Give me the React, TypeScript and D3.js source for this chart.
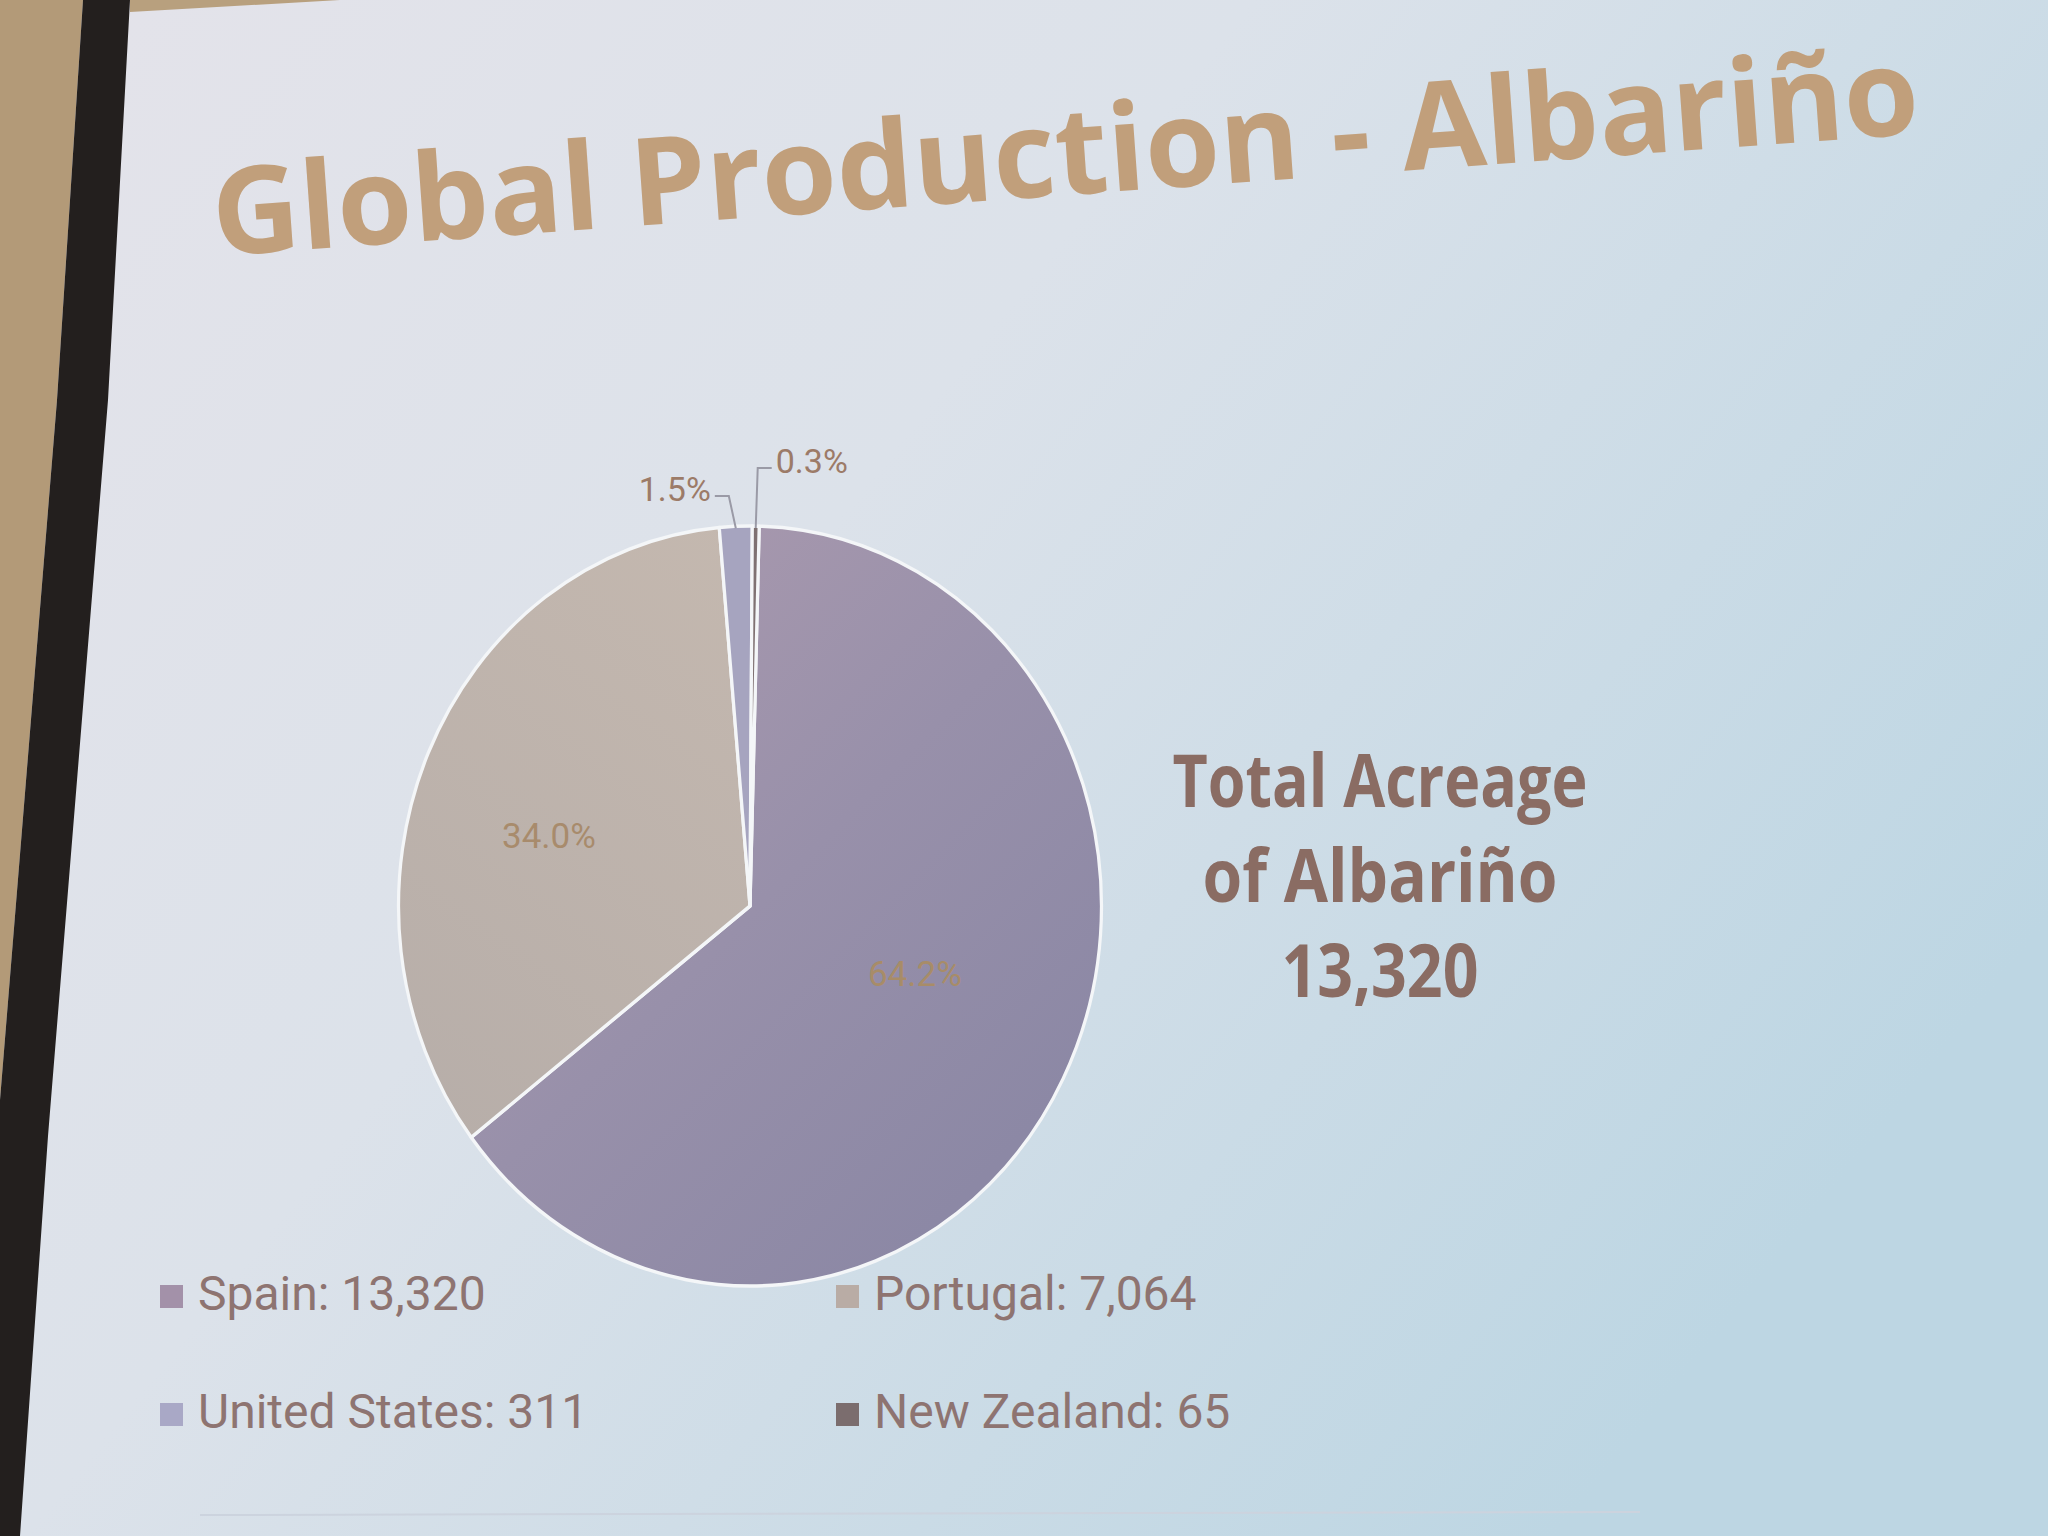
import React from "react";
import * as d3 from "d3";

const countries = ["Spain", "Portugal", "United States", "New Zealand"];
const acreage = [13320, 7064, 311, 65];
const sliceColors = ["url(#spainGrad)", "url(#portGrad)", "#a6a4bf", "#7f7172"];
const legendColors = ["#a391a9", "#b9aca5", "#a9a8c6", "#7b6d6e"];
const titleText = "Global Production - Albariño";
const sideLines = ["Total Acreage", "of Albariño", "13,320"];

const W = 2048;
const H = 1536;

export default function App() {
  const cx = 750;
  const cy = 906;
  const R = 380;
  const sx = 0.925;
  const offset = (1.5 * Math.PI) / 180;
  const total = d3.sum(acreage);
  const fmtPct = d3.format(".1%");
  const fmtNum = d3.format(",");

  const pie = d3
    .pie<number>()
    .sort(null)
    .value((d) => d)
    .startAngle(offset)
    .endAngle(offset + 2 * Math.PI);
  const arcs = pie(acreage);
  const arc = d3.arc<d3.PieArcDatum<number>>().innerRadius(0).outerRadius(R);

  const pt = (a: number, r: number) => [cx + sx * r * Math.sin(a), cy - r * Math.cos(a)];
  const labelFactor = [0.52, 0.6];
  const labelNudge = [
    [2, -22],
    [-8, 22],
  ];
  const labelColors = ["#a88c68", "#a88b6c"];

  const legendCols = [160, 836];
  const legendRows = [1310, 1428];

  return (
    <svg
      width={W}
      height={H}
      style={{ position: "absolute", left: 0, top: 0 }}
      xmlns="http://www.w3.org/2000/svg"
    >
      <defs>
        <linearGradient id="bg" x1="0" y1="0" x2="1" y2="0.6">
          <stop offset="0" stopColor="#e4e3ea" />
          <stop offset="0.45" stopColor="#dce2ea" />
          <stop offset="1" stopColor="#bdd6e3" />
        </linearGradient>
        <linearGradient id="spainGrad" gradientUnits="userSpaceOnUse" x1={-120} y1={-R} x2={R} y2={150}>
          <stop offset="0" stopColor="#a999ae" />
          <stop offset="0.5" stopColor="#9890aa" />
          <stop offset="1" stopColor="#8c88a5" />
        </linearGradient>
        <linearGradient id="portGrad" gradientUnits="userSpaceOnUse" x1={0} y1={-R} x2={-R} y2={200}>
          <stop offset="0" stopColor="#c4b8af" />
          <stop offset="1" stopColor="#b7aea9" />
        </linearGradient>
      </defs>

      <rect x={0} y={0} width={W} height={H} fill="url(#bg)" />
      {/* room surroundings in the photo */}
      <polygon points="0,0 83,0 57,400 0,1100" fill="#b39a78" />
      <polygon points="83,0 130,0 108,400 48,1136 20,1536 0,1536 0,1100 57,400" fill="#231f1e" />
      <polygon points="130,0 340,0 130,12" fill="#b8a07e" />
      <line x1={200} y1={1515} x2={1640} y2={1512} stroke="#ccd3de" strokeWidth={2} />

      {/* title */}
      <text
        x={215}
        y={256}
        transform="rotate(-4.1 215 256)"
        fontFamily="'Open Sans', sans-serif"
        fontWeight={700}
        fontSize={121.5}
        fill="#c19f7b"
      >
        {titleText}
      </text>

      {/* pie */}
      <g transform={`translate(${cx},${cy}) scale(${sx},1)`}>
        {arcs.map((a, i) => (
          <path key={countries[i]} d={arc(a) || ""} fill={sliceColors[i]} stroke="#f4f6f8" strokeWidth={3.5} strokeLinejoin="round" />
        ))}
      </g>

      {/* inside labels for large slices */}
      {arcs.slice(0, 2).map((a, i) => {
        const m = (a.startAngle + a.endAngle) / 2;
        const [x, y] = pt(m, R * labelFactor[i]);
        return (
          <text
            key={"lbl" + i}
            x={x + labelNudge[i][0]}
            y={y + labelNudge[i][1]}
            dy="0.35em"
            textAnchor="middle"
            fontFamily="Roboto, sans-serif"
            fontSize={35}
            fill={labelColors[i]}
          >
            {fmtPct(a.value / total)}
          </text>
        );
      })}

      {/* outside labels with leader lines for the small slices */}
      {arcs.slice(2).map((a, j) => {
        const m = (a.startAngle + a.endAngle) / 2;
        const [x0, y0] = pt(m, R - 2);
        const up = j === 0 ? 30 : 58;
        const side = j === 0 ? -1 : 1;
        const x1 = x0 + (j === 0 ? -7 : 2);
        const y1 = cy - R - up;
        const x2 = x1 + side * 14;
        return (
          <g key={"out" + j}>
            <polyline
              points={`${x0},${y0} ${x1},${y1} ${x2},${y1}`}
              fill="none"
              stroke="#9a9aa6"
              strokeWidth={2}
            />
            <text
              x={x2 + side * 4}
              y={y1 + 5}
              textAnchor={side < 0 ? "end" : "start"}
              fontFamily="Roboto, sans-serif"
              fontSize={34}
              fill="#9c7b68"
            >
              {fmtPct(a.value / total)}
            </text>
          </g>
        );
      })}

      {/* side annotation */}
      {sideLines.map((t, i) => (
        <text
          key={"side" + i}
          x={1380}
          y={807 + i * 95}
          textAnchor="middle"
          fontFamily="'Open Sans', sans-serif"
          fontWeight={700}
          fontSize={74}
          fill="#8a6c63"
          textLength={[415, 355, 197][i]}
          lengthAdjust="spacingAndGlyphs"
        >
          {t}
        </text>
      ))}

      {/* legend */}
      {countries.map((c, i) => {
        const x = legendCols[i % 2];
        const y = legendRows[Math.floor(i / 2)];
        return (
          <g key={"leg" + c}>
            <rect x={x} y={y - 25} width={23} height={23} fill={legendColors[i]} />
            <text
              x={x + 38}
              y={y}
              fontFamily="Roboto, sans-serif"
              fontSize={48}
              fill="#8e7471"
            >
              {`${c}: ${fmtNum(acreage[i])}`}
            </text>
          </g>
        );
      })}
    </svg>
  );
}
